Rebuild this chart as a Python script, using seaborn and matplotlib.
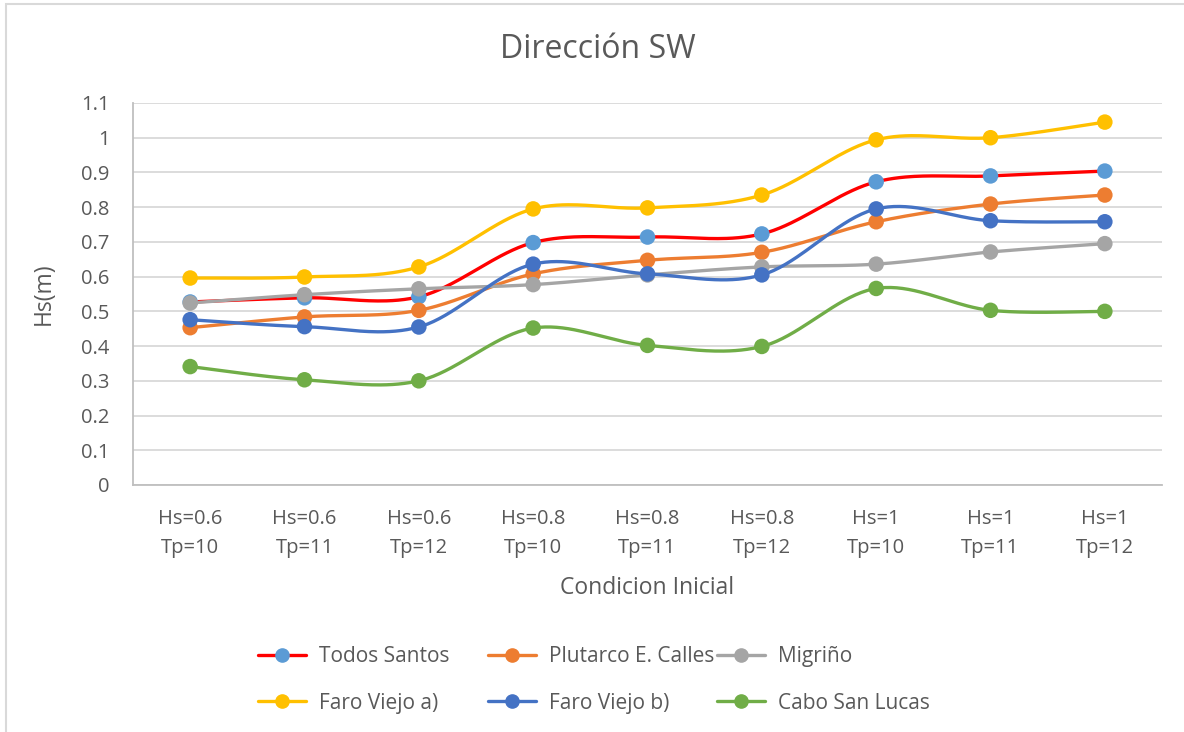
import numpy as np
import pandas as pd
import matplotlib
matplotlib.use("Agg")
import matplotlib.pyplot as plt
from matplotlib.lines import Line2D
from matplotlib.patches import Rectangle
import seaborn as sns

# Initial conditions (x categories)
hs_init = ["0.6", "0.6", "0.6", "0.8", "0.8", "0.8", "1", "1", "1"]
tp_init = ["10", "11", "12", "10", "11", "12", "10", "11", "12"]

# Significant wave height per site
todos_santos = [0.527, 0.539, 0.542, 0.698, 0.714, 0.723, 0.873, 0.890, 0.904]
plutarco = [0.453, 0.484, 0.503, 0.608, 0.647, 0.670, 0.758, 0.809, 0.835]
migrino = [0.524, 0.548, 0.565, 0.577, 0.605, 0.628, 0.636, 0.671, 0.695]
faro_a = [0.596, 0.599, 0.628, 0.795, 0.798, 0.835, 0.994, 1.000, 1.045]
faro_b = [0.476, 0.456, 0.455, 0.636, 0.608, 0.605, 0.795, 0.761, 0.758]
cabo = [0.341, 0.303, 0.300, 0.452, 0.402, 0.399, 0.566, 0.503, 0.500]

series_names = ["Todos Santos", "Plutarco E. Calles", "Migriño",
                "Faro Viejo a)", "Faro Viejo b)", "Cabo San Lucas"]
series_values = [todos_santos, plutarco, migrino, faro_a, faro_b, cabo]
line_colors = ["#FF0000", "#ED7D31", "#A5A5A5", "#FFC000", "#4472C4", "#70AD47"]
marker_colors = ["#5B9BD5", "#ED7D31", "#A5A5A5", "#FFC000", "#4472C4", "#70AD47"]

categories = [f"Hs={h}\nTp={t}" for h, t in zip(hs_init, tp_init)]

TEXT = "#595959"
GRID = "#D9D9D9"
FONT = ["Open Sans", "DejaVu Sans"]

sns.set_style("white")
plt.rcParams["font.family"] = FONT


def smooth_curve(x, y, steps=40):
    """Cubic Bezier smoothing through every point (Catmull-Rom style)."""
    pts = np.column_stack([x, y]).astype(float)
    padded = np.vstack([pts[0], pts, pts[-1]])
    out = []
    t = np.linspace(0, 1, steps)[:, None]
    for i in range(len(pts) - 1):
        p0, p1, p2, p3 = padded[i], padded[i + 1], padded[i + 2], padded[i + 3]
        c1 = p1 + (p2 - p0) / 6.0
        c2 = p2 - (p3 - p1) / 6.0
        seg = ((1 - t) ** 3) * p1 + 3 * ((1 - t) ** 2) * t * c1 \
            + 3 * (1 - t) * t ** 2 * c2 + t ** 3 * p2
        out.append(seg if i == 0 else seg[1:])
    out = np.vstack(out)
    return out[:, 0], out[:, 1]


fig = plt.figure(figsize=(11.84, 7.32), dpi=100)
ax = fig.add_axes([133 / 1184, 1 - 485 / 732, (1162 - 133) / 1184, (485 - 103) / 732])

xpos = np.arange(len(categories))
for k, (name, vals) in enumerate(zip(series_names, series_values)):
    sx, sy = smooth_curve(xpos, vals)
    curve = pd.DataFrame({"x": sx, "y": sy})
    sns.lineplot(data=curve, x="x", y="y", ax=ax, color=line_colors[k],
                 linewidth=2.4, sort=False, estimator=None, zorder=3 + 2 * k)
    pts = pd.DataFrame({"x": xpos, "y": vals})
    sns.scatterplot(data=pts, x="x", y="y", ax=ax, color=marker_colors[k],
                    s=125, edgecolor="none", linewidth=0, zorder=4 + 2 * k)

ax.set_xlim(-0.5, len(categories) - 0.5)
ax.set_ylim(0, 1.1)
yticks = np.round(np.arange(0, 1.11, 0.1), 1)
ax.set_yticks(yticks)
ax.set_yticklabels([("%g" % v) for v in yticks])
ax.set_xticks(xpos)
ax.set_xticklabels(categories, linespacing=1.62)

ax.grid(axis="y", color=GRID, linewidth=1.3, zorder=0)
ax.grid(axis="x", visible=False)
ax.set_axisbelow(True)
for side in ["top", "right"]:
    ax.spines[side].set_visible(False)
ax.spines["left"].set_color("#BFBFBF")
ax.spines["left"].set_linewidth(1.3)
ax.spines["bottom"].set_color("#BFBFBF")
ax.spines["bottom"].set_linewidth(1.3)
ax.tick_params(axis="y", length=0, pad=17, labelsize=14.5, labelcolor=TEXT)
ax.tick_params(axis="x", length=0, pad=17, labelsize=14.5, labelcolor=TEXT)

ax.set_xlabel("Condicion Inicial", fontsize=16.5, color=TEXT, labelpad=13)
ax.set_ylabel("Hs(m)", fontsize=16.5, color=TEXT, labelpad=18)
fig.text(598 / 1184, 1 - 58 / 732, "Dirección SW", ha="center", va="baseline",
         fontsize=23, color=TEXT)

# Legend: three columns of two entries each
col_x = [250 / 1184, 480 / 1184, 709 / 1184]
for c in range(3):
    handles = []
    for k in (c, c + 3):
        handles.append(Line2D([0], [0], color=line_colors[k], linewidth=2.4,
                              marker="o", markersize=9.5,
                              markerfacecolor=marker_colors[k],
                              markeredgecolor=marker_colors[k],
                              label=series_names[k]))
    fig.legend(handles=handles, loc="upper left",
               bbox_to_anchor=(col_x[c], 1 - 638 / 732), frameon=False,
               fontsize=15, labelcolor=TEXT, handlelength=2.3,
               handletextpad=0.6, labelspacing=1.22, borderaxespad=0)

# Chart frame
fig.patches.append(Rectangle((6 / 1184, -0.2), 1.2, 1 - 4 / 732 + 0.2,
                             transform=fig.transFigure, fill=False,
                             edgecolor="#D9D9D9", linewidth=1.5))

fig.savefig("out.png", dpi=100, facecolor="white")
